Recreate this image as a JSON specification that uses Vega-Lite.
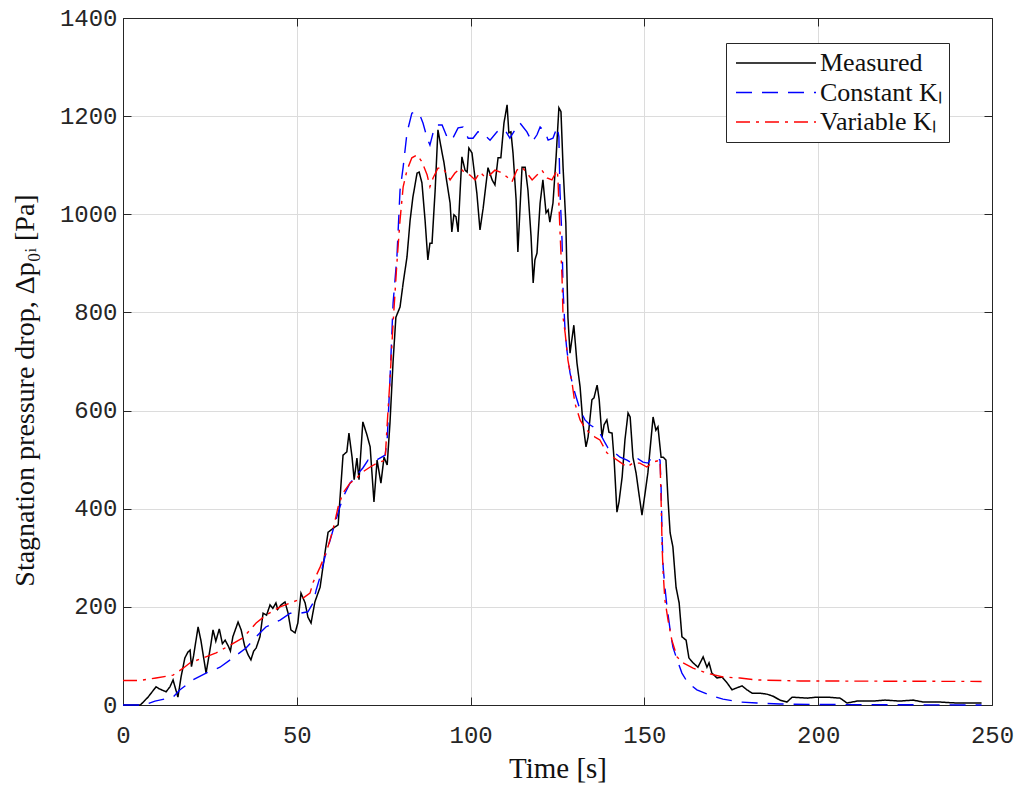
{
  "$schema": "https://vega.github.io/schema/vega-lite/v6.json",
  "width": 869,
  "height": 687,
  "autosize": {"type": "none"},
  "padding": {"left": 123, "top": 18, "right": 30, "bottom": 83},
  "background": "white",
  "config": {
    "view": {"stroke": null},
    "axis": {
      "labelFont": "Liberation Mono",
      "labelFontSize": 24,
      "labelColor": "#262626",
      "titleFont": "Liberation Serif",
      "titleFontSize": 28,
      "titleFontWeight": "normal",
      "titleColor": "#111111",
      "domainColor": "#262626",
      "domainWidth": 1,
      "tickColor": "#262626",
      "tickSize": -8,
      "tickWidth": 1,
      "gridColor": "#dcdcdc",
      "gridWidth": 1,
      "labelFlush": false,
      "labelOverlap": false
    },
    "legend": {
      "labelFont": "Liberation Serif",
      "labelFontSize": 26,
      "labelColor": "#111111"
    }
  },
  "data": {
    "values": [
      {"time": 0, "dp": 0, "series": "Measured"},
      {"time": 5, "dp": 0, "series": "Measured"},
      {"time": 7.2, "dp": 16, "series": "Measured"},
      {"time": 9.5, "dp": 37, "series": "Measured"},
      {"time": 10.4, "dp": 33, "series": "Measured"},
      {"time": 12.4, "dp": 27, "series": "Measured"},
      {"time": 13.5, "dp": 37, "series": "Measured"},
      {"time": 14.4, "dp": 51, "series": "Measured"},
      {"time": 15.8, "dp": 16, "series": "Measured"},
      {"time": 16.7, "dp": 57, "series": "Measured"},
      {"time": 17.8, "dp": 96, "series": "Measured"},
      {"time": 18.7, "dp": 108, "series": "Measured"},
      {"time": 19.3, "dp": 112, "series": "Measured"},
      {"time": 19.7, "dp": 78, "series": "Measured"},
      {"time": 20.3, "dp": 100, "series": "Measured"},
      {"time": 21.6, "dp": 159, "series": "Measured"},
      {"time": 22.4, "dp": 132, "series": "Measured"},
      {"time": 23.9, "dp": 65, "series": "Measured"},
      {"time": 25.2, "dp": 120, "series": "Measured"},
      {"time": 25.9, "dp": 153, "series": "Measured"},
      {"time": 26.7, "dp": 130, "series": "Measured"},
      {"time": 27.7, "dp": 155, "series": "Measured"},
      {"time": 28.6, "dp": 125, "series": "Measured"},
      {"time": 29.4, "dp": 132, "series": "Measured"},
      {"time": 30.3, "dp": 120, "series": "Measured"},
      {"time": 30.9, "dp": 110, "series": "Measured"},
      {"time": 31.6, "dp": 139, "series": "Measured"},
      {"time": 33.1, "dp": 169, "series": "Measured"},
      {"time": 34.0, "dp": 153, "series": "Measured"},
      {"time": 35.0, "dp": 120, "series": "Measured"},
      {"time": 36.0, "dp": 102, "series": "Measured"},
      {"time": 36.8, "dp": 92, "series": "Measured"},
      {"time": 37.6, "dp": 110, "series": "Measured"},
      {"time": 38.3, "dp": 116, "series": "Measured"},
      {"time": 39.4, "dp": 139, "series": "Measured"},
      {"time": 40.3, "dp": 187, "series": "Measured"},
      {"time": 41.3, "dp": 183, "series": "Measured"},
      {"time": 42.3, "dp": 204, "series": "Measured"},
      {"time": 43.1, "dp": 197, "series": "Measured"},
      {"time": 44.0, "dp": 208, "series": "Measured"},
      {"time": 44.5, "dp": 195, "series": "Measured"},
      {"time": 45.5, "dp": 204, "series": "Measured"},
      {"time": 46.6, "dp": 210, "series": "Measured"},
      {"time": 47.5, "dp": 187, "series": "Measured"},
      {"time": 48.3, "dp": 153, "series": "Measured"},
      {"time": 49.5, "dp": 147, "series": "Measured"},
      {"time": 50.3, "dp": 167, "series": "Measured"},
      {"time": 51.2, "dp": 228, "series": "Measured"},
      {"time": 52.4, "dp": 208, "series": "Measured"},
      {"time": 53.2, "dp": 179, "series": "Measured"},
      {"time": 54.1, "dp": 167, "series": "Measured"},
      {"time": 55.2, "dp": 210, "series": "Measured"},
      {"time": 56.7, "dp": 240, "series": "Measured"},
      {"time": 58.1, "dp": 310, "series": "Measured"},
      {"time": 59.0, "dp": 352, "series": "Measured"},
      {"time": 61.0, "dp": 363, "series": "Measured"},
      {"time": 61.9, "dp": 367, "series": "Measured"},
      {"time": 62.4, "dp": 418, "series": "Measured"},
      {"time": 63.3, "dp": 509, "series": "Measured"},
      {"time": 64.4, "dp": 516, "series": "Measured"},
      {"time": 65.0, "dp": 554, "series": "Measured"},
      {"time": 65.9, "dp": 505, "series": "Measured"},
      {"time": 66.5, "dp": 459, "series": "Measured"},
      {"time": 67.3, "dp": 503, "series": "Measured"},
      {"time": 67.9, "dp": 459, "series": "Measured"},
      {"time": 69.0, "dp": 577, "series": "Measured"},
      {"time": 70.2, "dp": 550, "series": "Measured"},
      {"time": 71.1, "dp": 526, "series": "Measured"},
      {"time": 72.2, "dp": 414, "series": "Measured"},
      {"time": 73.1, "dp": 499, "series": "Measured"},
      {"time": 74.2, "dp": 452, "series": "Measured"},
      {"time": 75.1, "dp": 505, "series": "Measured"},
      {"time": 76.0, "dp": 489, "series": "Measured"},
      {"time": 76.8, "dp": 574, "series": "Measured"},
      {"time": 77.7, "dp": 700, "series": "Measured"},
      {"time": 78.5, "dp": 790, "series": "Measured"},
      {"time": 79.7, "dp": 811, "series": "Measured"},
      {"time": 80.6, "dp": 860, "series": "Measured"},
      {"time": 81.7, "dp": 913, "series": "Measured"},
      {"time": 82.6, "dp": 988, "series": "Measured"},
      {"time": 83.4, "dp": 1035, "series": "Measured"},
      {"time": 84.6, "dp": 1084, "series": "Measured"},
      {"time": 85.2, "dp": 1086, "series": "Measured"},
      {"time": 86.0, "dp": 1064, "series": "Measured"},
      {"time": 86.9, "dp": 988, "series": "Measured"},
      {"time": 87.7, "dp": 907, "series": "Measured"},
      {"time": 88.3, "dp": 941, "series": "Measured"},
      {"time": 88.9, "dp": 941, "series": "Measured"},
      {"time": 89.8, "dp": 1049, "series": "Measured"},
      {"time": 90.6, "dp": 1172, "series": "Measured"},
      {"time": 91.8, "dp": 1125, "series": "Measured"},
      {"time": 92.3, "dp": 1107, "series": "Measured"},
      {"time": 93.2, "dp": 1064, "series": "Measured"},
      {"time": 94.1, "dp": 1023, "series": "Measured"},
      {"time": 94.6, "dp": 964, "series": "Measured"},
      {"time": 95.2, "dp": 999, "series": "Measured"},
      {"time": 95.8, "dp": 995, "series": "Measured"},
      {"time": 96.4, "dp": 964, "series": "Measured"},
      {"time": 97.0, "dp": 1049, "series": "Measured"},
      {"time": 97.5, "dp": 1117, "series": "Measured"},
      {"time": 98.4, "dp": 1090, "series": "Measured"},
      {"time": 99.0, "dp": 1086, "series": "Measured"},
      {"time": 99.5, "dp": 1135, "series": "Measured"},
      {"time": 100.4, "dp": 1125, "series": "Measured"},
      {"time": 101.8, "dp": 1043, "series": "Measured"},
      {"time": 102.7, "dp": 968, "series": "Measured"},
      {"time": 103.6, "dp": 1012, "series": "Measured"},
      {"time": 105.0, "dp": 1095, "series": "Measured"},
      {"time": 106.2, "dp": 1070, "series": "Measured"},
      {"time": 107.0, "dp": 1060, "series": "Measured"},
      {"time": 107.9, "dp": 1115, "series": "Measured"},
      {"time": 108.7, "dp": 1115, "series": "Measured"},
      {"time": 109.6, "dp": 1186, "series": "Measured"},
      {"time": 110.5, "dp": 1223, "series": "Measured"},
      {"time": 111.0, "dp": 1166, "series": "Measured"},
      {"time": 111.6, "dp": 1168, "series": "Measured"},
      {"time": 112.2, "dp": 1125, "series": "Measured"},
      {"time": 113.1, "dp": 1029, "series": "Measured"},
      {"time": 113.6, "dp": 923, "series": "Measured"},
      {"time": 114.8, "dp": 1096, "series": "Measured"},
      {"time": 115.7, "dp": 1096, "series": "Measured"},
      {"time": 116.5, "dp": 1049, "series": "Measured"},
      {"time": 117.4, "dp": 954, "series": "Measured"},
      {"time": 118.0, "dp": 860, "series": "Measured"},
      {"time": 118.5, "dp": 907, "series": "Measured"},
      {"time": 119.1, "dp": 921, "series": "Measured"},
      {"time": 120.0, "dp": 1023, "series": "Measured"},
      {"time": 120.8, "dp": 1070, "series": "Measured"},
      {"time": 121.7, "dp": 1003, "series": "Measured"},
      {"time": 122.3, "dp": 1009, "series": "Measured"},
      {"time": 122.8, "dp": 984, "series": "Measured"},
      {"time": 123.7, "dp": 1023, "series": "Measured"},
      {"time": 124.6, "dp": 1117, "series": "Measured"},
      {"time": 125.4, "dp": 1217, "series": "Measured"},
      {"time": 126.0, "dp": 1209, "series": "Measured"},
      {"time": 126.6, "dp": 1096, "series": "Measured"},
      {"time": 127.4, "dp": 982, "series": "Measured"},
      {"time": 128.0, "dp": 790, "series": "Measured"},
      {"time": 128.6, "dp": 717, "series": "Measured"},
      {"time": 129.7, "dp": 774, "series": "Measured"},
      {"time": 130.6, "dp": 697, "series": "Measured"},
      {"time": 131.5, "dp": 648, "series": "Measured"},
      {"time": 132.3, "dp": 575, "series": "Measured"},
      {"time": 133.2, "dp": 526, "series": "Measured"},
      {"time": 133.8, "dp": 546, "series": "Measured"},
      {"time": 134.9, "dp": 622, "series": "Measured"},
      {"time": 135.5, "dp": 626, "series": "Measured"},
      {"time": 136.4, "dp": 652, "series": "Measured"},
      {"time": 137.0, "dp": 622, "series": "Measured"},
      {"time": 137.8, "dp": 546, "series": "Measured"},
      {"time": 138.4, "dp": 571, "series": "Measured"},
      {"time": 139.2, "dp": 581, "series": "Measured"},
      {"time": 139.8, "dp": 556, "series": "Measured"},
      {"time": 140.7, "dp": 554, "series": "Measured"},
      {"time": 141.3, "dp": 499, "series": "Measured"},
      {"time": 142.1, "dp": 393, "series": "Measured"},
      {"time": 142.7, "dp": 414, "series": "Measured"},
      {"time": 143.6, "dp": 465, "series": "Measured"},
      {"time": 144.4, "dp": 540, "series": "Measured"},
      {"time": 145.3, "dp": 595, "series": "Measured"},
      {"time": 145.9, "dp": 587, "series": "Measured"},
      {"time": 146.7, "dp": 505, "series": "Measured"},
      {"time": 147.6, "dp": 473, "series": "Measured"},
      {"time": 148.4, "dp": 432, "series": "Measured"},
      {"time": 149.3, "dp": 387, "series": "Measured"},
      {"time": 150.2, "dp": 432, "series": "Measured"},
      {"time": 151.0, "dp": 473, "series": "Measured"},
      {"time": 152.5, "dp": 587, "series": "Measured"},
      {"time": 153.3, "dp": 560, "series": "Measured"},
      {"time": 153.9, "dp": 567, "series": "Measured"},
      {"time": 154.8, "dp": 505, "series": "Measured"},
      {"time": 155.4, "dp": 505, "series": "Measured"},
      {"time": 156.2, "dp": 499, "series": "Measured"},
      {"time": 156.8, "dp": 418, "series": "Measured"},
      {"time": 157.4, "dp": 351, "series": "Measured"},
      {"time": 158.2, "dp": 322, "series": "Measured"},
      {"time": 159.1, "dp": 240, "series": "Measured"},
      {"time": 160.0, "dp": 208, "series": "Measured"},
      {"time": 160.8, "dp": 139, "series": "Measured"},
      {"time": 162.0, "dp": 132, "series": "Measured"},
      {"time": 162.8, "dp": 96, "series": "Measured"},
      {"time": 164.0, "dp": 86, "series": "Measured"},
      {"time": 165.4, "dp": 77, "series": "Measured"},
      {"time": 166.9, "dp": 98, "series": "Measured"},
      {"time": 168.0, "dp": 77, "series": "Measured"},
      {"time": 168.6, "dp": 86, "series": "Measured"},
      {"time": 169.4, "dp": 65, "series": "Measured"},
      {"time": 170.9, "dp": 55, "series": "Measured"},
      {"time": 172.3, "dp": 57, "series": "Measured"},
      {"time": 173.8, "dp": 45, "series": "Measured"},
      {"time": 175.2, "dp": 31, "series": "Measured"},
      {"time": 176.6, "dp": 35, "series": "Measured"},
      {"time": 178.1, "dp": 39, "series": "Measured"},
      {"time": 179.5, "dp": 31, "series": "Measured"},
      {"time": 181.0, "dp": 24, "series": "Measured"},
      {"time": 183.3, "dp": 24, "series": "Measured"},
      {"time": 185.3, "dp": 22, "series": "Measured"},
      {"time": 187.0, "dp": 18, "series": "Measured"},
      {"time": 189.0, "dp": 10, "series": "Measured"},
      {"time": 191.0, "dp": 6, "series": "Measured"},
      {"time": 192.5, "dp": 16, "series": "Measured"},
      {"time": 196.8, "dp": 14, "series": "Measured"},
      {"time": 199.7, "dp": 16, "series": "Measured"},
      {"time": 202.5, "dp": 16, "series": "Measured"},
      {"time": 206.3, "dp": 14, "series": "Measured"},
      {"time": 208.3, "dp": 4, "series": "Measured"},
      {"time": 211.2, "dp": 8, "series": "Measured"},
      {"time": 215.8, "dp": 8, "series": "Measured"},
      {"time": 219.2, "dp": 10, "series": "Measured"},
      {"time": 223.5, "dp": 8, "series": "Measured"},
      {"time": 227.3, "dp": 10, "series": "Measured"},
      {"time": 230.2, "dp": 6, "series": "Measured"},
      {"time": 235.0, "dp": 6, "series": "Measured"},
      {"time": 239.9, "dp": 4, "series": "Measured"},
      {"time": 247.0, "dp": 4, "series": "Measured"},

      {"time": 0, "dp": 0, "series": "Constant Kₗ"},
      {"time": 6, "dp": 0, "series": "Constant Kₗ"},
      {"time": 9.2, "dp": 8, "series": "Constant Kₗ"},
      {"time": 14.4, "dp": 16, "series": "Constant Kₗ"},
      {"time": 16.4, "dp": 31, "series": "Constant Kₗ"},
      {"time": 20.1, "dp": 51, "series": "Constant Kₗ"},
      {"time": 23.9, "dp": 65, "series": "Constant Kₗ"},
      {"time": 27.9, "dp": 77, "series": "Constant Kₗ"},
      {"time": 31.6, "dp": 96, "series": "Constant Kₗ"},
      {"time": 35.4, "dp": 116, "series": "Constant Kₗ"},
      {"time": 38.3, "dp": 139, "series": "Constant Kₗ"},
      {"time": 41.1, "dp": 159, "series": "Constant Kₗ"},
      {"time": 45.2, "dp": 173, "series": "Constant Kₗ"},
      {"time": 48.1, "dp": 187, "series": "Constant Kₗ"},
      {"time": 50.9, "dp": 187, "series": "Constant Kₗ"},
      {"time": 53.2, "dp": 190, "series": "Constant Kₗ"},
      {"time": 54.7, "dp": 208, "series": "Constant Kₗ"},
      {"time": 55.6, "dp": 235, "series": "Constant Kₗ"},
      {"time": 56.7, "dp": 261, "series": "Constant Kₗ"},
      {"time": 58.1, "dp": 302, "series": "Constant Kₗ"},
      {"time": 59.6, "dp": 336, "series": "Constant Kₗ"},
      {"time": 61.0, "dp": 371, "series": "Constant Kₗ"},
      {"time": 62.4, "dp": 404, "series": "Constant Kₗ"},
      {"time": 63.9, "dp": 432, "series": "Constant Kₗ"},
      {"time": 65.3, "dp": 452, "series": "Constant Kₗ"},
      {"time": 67.3, "dp": 469, "series": "Constant Kₗ"},
      {"time": 69.0, "dp": 483, "series": "Constant Kₗ"},
      {"time": 70.5, "dp": 499, "series": "Constant Kₗ"},
      {"time": 71.9, "dp": 495, "series": "Constant Kₗ"},
      {"time": 73.9, "dp": 503, "series": "Constant Kₗ"},
      {"time": 75.4, "dp": 509, "series": "Constant Kₗ"},
      {"time": 76.0, "dp": 540, "series": "Constant Kₗ"},
      {"time": 76.8, "dp": 662, "series": "Constant Kₗ"},
      {"time": 77.7, "dp": 819, "series": "Constant Kₗ"},
      {"time": 78.8, "dp": 913, "series": "Constant Kₗ"},
      {"time": 79.7, "dp": 1049, "series": "Constant Kₗ"},
      {"time": 80.6, "dp": 1096, "series": "Constant Kₗ"},
      {"time": 81.7, "dp": 1166, "series": "Constant Kₗ"},
      {"time": 83.1, "dp": 1206, "series": "Constant Kₗ"},
      {"time": 84.0, "dp": 1209, "series": "Constant Kₗ"},
      {"time": 85.4, "dp": 1202, "series": "Constant Kₗ"},
      {"time": 86.3, "dp": 1186, "series": "Constant Kₗ"},
      {"time": 87.5, "dp": 1155, "series": "Constant Kₗ"},
      {"time": 88.3, "dp": 1141, "series": "Constant Kₗ"},
      {"time": 89.2, "dp": 1166, "series": "Constant Kₗ"},
      {"time": 90.3, "dp": 1182, "series": "Constant Kₗ"},
      {"time": 91.8, "dp": 1182, "series": "Constant Kₗ"},
      {"time": 93.2, "dp": 1158, "series": "Constant Kₗ"},
      {"time": 94.6, "dp": 1151, "series": "Constant Kₗ"},
      {"time": 96.4, "dp": 1176, "series": "Constant Kₗ"},
      {"time": 97.8, "dp": 1178, "series": "Constant Kₗ"},
      {"time": 99.3, "dp": 1155, "series": "Constant Kₗ"},
      {"time": 100.7, "dp": 1155, "series": "Constant Kₗ"},
      {"time": 102.1, "dp": 1168, "series": "Constant Kₗ"},
      {"time": 103.6, "dp": 1166, "series": "Constant Kₗ"},
      {"time": 105.0, "dp": 1155, "series": "Constant Kₗ"},
      {"time": 105.6, "dp": 1151, "series": "Constant Kₗ"},
      {"time": 107.6, "dp": 1168, "series": "Constant Kₗ"},
      {"time": 108.5, "dp": 1172, "series": "Constant Kₗ"},
      {"time": 109.9, "dp": 1172, "series": "Constant Kₗ"},
      {"time": 111.3, "dp": 1155, "series": "Constant Kₗ"},
      {"time": 113.3, "dp": 1178, "series": "Constant Kₗ"},
      {"time": 114.2, "dp": 1186, "series": "Constant Kₗ"},
      {"time": 116.2, "dp": 1168, "series": "Constant Kₗ"},
      {"time": 117.7, "dp": 1147, "series": "Constant Kₗ"},
      {"time": 119.1, "dp": 1162, "series": "Constant Kₗ"},
      {"time": 120.0, "dp": 1178, "series": "Constant Kₗ"},
      {"time": 121.4, "dp": 1168, "series": "Constant Kₗ"},
      {"time": 122.3, "dp": 1151, "series": "Constant Kₗ"},
      {"time": 123.7, "dp": 1155, "series": "Constant Kₗ"},
      {"time": 124.9, "dp": 1178, "series": "Constant Kₗ"},
      {"time": 125.4, "dp": 1158, "series": "Constant Kₗ"},
      {"time": 125.7, "dp": 1049, "series": "Constant Kₗ"},
      {"time": 126.3, "dp": 948, "series": "Constant Kₗ"},
      {"time": 126.6, "dp": 846, "series": "Constant Kₗ"},
      {"time": 127.2, "dp": 760, "series": "Constant Kₗ"},
      {"time": 127.7, "dp": 723, "series": "Constant Kₗ"},
      {"time": 128.6, "dp": 677, "series": "Constant Kₗ"},
      {"time": 129.5, "dp": 648, "series": "Constant Kₗ"},
      {"time": 130.6, "dp": 622, "series": "Constant Kₗ"},
      {"time": 131.5, "dp": 601, "series": "Constant Kₗ"},
      {"time": 132.9, "dp": 581, "series": "Constant Kₗ"},
      {"time": 134.3, "dp": 571, "series": "Constant Kₗ"},
      {"time": 135.2, "dp": 567, "series": "Constant Kₗ"},
      {"time": 137.2, "dp": 554, "series": "Constant Kₗ"},
      {"time": 138.7, "dp": 534, "series": "Constant Kₗ"},
      {"time": 139.5, "dp": 524, "series": "Constant Kₗ"},
      {"time": 141.5, "dp": 514, "series": "Constant Kₗ"},
      {"time": 143.0, "dp": 505, "series": "Constant Kₗ"},
      {"time": 145.0, "dp": 499, "series": "Constant Kₗ"},
      {"time": 146.4, "dp": 493, "series": "Constant Kₗ"},
      {"time": 147.9, "dp": 503, "series": "Constant Kₗ"},
      {"time": 149.6, "dp": 495, "series": "Constant Kₗ"},
      {"time": 151.0, "dp": 493, "series": "Constant Kₗ"},
      {"time": 152.2, "dp": 505, "series": "Constant Kₗ"},
      {"time": 153.6, "dp": 503, "series": "Constant Kₗ"},
      {"time": 154.5, "dp": 499, "series": "Constant Kₗ"},
      {"time": 154.8, "dp": 444, "series": "Constant Kₗ"},
      {"time": 155.1, "dp": 342, "series": "Constant Kₗ"},
      {"time": 155.4, "dp": 281, "series": "Constant Kₗ"},
      {"time": 155.9, "dp": 240, "series": "Constant Kₗ"},
      {"time": 156.5, "dp": 200, "series": "Constant Kₗ"},
      {"time": 157.4, "dp": 153, "series": "Constant Kₗ"},
      {"time": 158.2, "dp": 118, "series": "Constant Kₗ"},
      {"time": 159.4, "dp": 92, "series": "Constant Kₗ"},
      {"time": 160.8, "dp": 65, "series": "Constant Kₗ"},
      {"time": 162.5, "dp": 45, "series": "Constant Kₗ"},
      {"time": 165.1, "dp": 31, "series": "Constant Kₗ"},
      {"time": 168.9, "dp": 20, "series": "Constant Kₗ"},
      {"time": 172.6, "dp": 12, "series": "Constant Kₗ"},
      {"time": 177.5, "dp": 6, "series": "Constant Kₗ"},
      {"time": 182.4, "dp": 4, "series": "Constant Kₗ"},
      {"time": 189.0, "dp": 2, "series": "Constant Kₗ"},
      {"time": 200.0, "dp": 1, "series": "Constant Kₗ"},
      {"time": 247.0, "dp": 0, "series": "Constant Kₗ"},

      {"time": 0, "dp": 50, "series": "Variable Kₗ"},
      {"time": 4.9, "dp": 50, "series": "Variable Kₗ"},
      {"time": 9.5, "dp": 55, "series": "Variable Kₗ"},
      {"time": 14.4, "dp": 61, "series": "Variable Kₗ"},
      {"time": 17.3, "dp": 75, "series": "Variable Kₗ"},
      {"time": 19.3, "dp": 86, "series": "Variable Kₗ"},
      {"time": 23.0, "dp": 96, "series": "Variable Kₗ"},
      {"time": 26.8, "dp": 106, "series": "Variable Kₗ"},
      {"time": 30.8, "dp": 122, "series": "Variable Kₗ"},
      {"time": 34.5, "dp": 137, "series": "Variable Kₗ"},
      {"time": 38.3, "dp": 167, "series": "Variable Kₗ"},
      {"time": 41.1, "dp": 183, "series": "Variable Kₗ"},
      {"time": 45.2, "dp": 200, "series": "Variable Kₗ"},
      {"time": 48.9, "dp": 210, "series": "Variable Kₗ"},
      {"time": 51.8, "dp": 218, "series": "Variable Kₗ"},
      {"time": 53.8, "dp": 228, "series": "Variable Kₗ"},
      {"time": 54.7, "dp": 250, "series": "Variable Kₗ"},
      {"time": 56.7, "dp": 281, "series": "Variable Kₗ"},
      {"time": 58.7, "dp": 316, "series": "Variable Kₗ"},
      {"time": 60.4, "dp": 357, "series": "Variable Kₗ"},
      {"time": 61.9, "dp": 404, "series": "Variable Kₗ"},
      {"time": 63.3, "dp": 432, "series": "Variable Kₗ"},
      {"time": 65.3, "dp": 452, "series": "Variable Kₗ"},
      {"time": 67.3, "dp": 463, "series": "Variable Kₗ"},
      {"time": 69.0, "dp": 475, "series": "Variable Kₗ"},
      {"time": 71.1, "dp": 485, "series": "Variable Kₗ"},
      {"time": 73.1, "dp": 493, "series": "Variable Kₗ"},
      {"time": 75.4, "dp": 499, "series": "Variable Kₗ"},
      {"time": 76.2, "dp": 595, "series": "Variable Kₗ"},
      {"time": 76.8, "dp": 662, "series": "Variable Kₗ"},
      {"time": 77.7, "dp": 778, "series": "Variable Kₗ"},
      {"time": 78.8, "dp": 901, "series": "Variable Kₗ"},
      {"time": 79.7, "dp": 988, "series": "Variable Kₗ"},
      {"time": 80.6, "dp": 1056, "series": "Variable Kₗ"},
      {"time": 81.7, "dp": 1090, "series": "Variable Kₗ"},
      {"time": 83.1, "dp": 1115, "series": "Variable Kₗ"},
      {"time": 84.6, "dp": 1121, "series": "Variable Kₗ"},
      {"time": 86.0, "dp": 1107, "series": "Variable Kₗ"},
      {"time": 87.5, "dp": 1080, "series": "Variable Kₗ"},
      {"time": 88.3, "dp": 1056, "series": "Variable Kₗ"},
      {"time": 89.2, "dp": 1074, "series": "Variable Kₗ"},
      {"time": 90.6, "dp": 1094, "series": "Variable Kₗ"},
      {"time": 92.1, "dp": 1094, "series": "Variable Kₗ"},
      {"time": 94.1, "dp": 1070, "series": "Variable Kₗ"},
      {"time": 95.5, "dp": 1084, "series": "Variable Kₗ"},
      {"time": 97.0, "dp": 1094, "series": "Variable Kₗ"},
      {"time": 98.4, "dp": 1084, "series": "Variable Kₗ"},
      {"time": 99.8, "dp": 1080, "series": "Variable Kₗ"},
      {"time": 101.3, "dp": 1070, "series": "Variable Kₗ"},
      {"time": 102.7, "dp": 1086, "series": "Variable Kₗ"},
      {"time": 104.1, "dp": 1076, "series": "Variable Kₗ"},
      {"time": 105.5, "dp": 1080, "series": "Variable Kₗ"},
      {"time": 107.0, "dp": 1090, "series": "Variable Kₗ"},
      {"time": 108.5, "dp": 1086, "series": "Variable Kₗ"},
      {"time": 110.5, "dp": 1076, "series": "Variable Kₗ"},
      {"time": 111.9, "dp": 1066, "series": "Variable Kₗ"},
      {"time": 113.3, "dp": 1090, "series": "Variable Kₗ"},
      {"time": 114.8, "dp": 1096, "series": "Variable Kₗ"},
      {"time": 116.2, "dp": 1084, "series": "Variable Kₗ"},
      {"time": 117.7, "dp": 1070, "series": "Variable Kₗ"},
      {"time": 119.1, "dp": 1080, "series": "Variable Kₗ"},
      {"time": 120.5, "dp": 1090, "series": "Variable Kₗ"},
      {"time": 122.0, "dp": 1074, "series": "Variable Kₗ"},
      {"time": 123.4, "dp": 1070, "series": "Variable Kₗ"},
      {"time": 124.9, "dp": 1090, "series": "Variable Kₗ"},
      {"time": 125.1, "dp": 1076, "series": "Variable Kₗ"},
      {"time": 125.7, "dp": 968, "series": "Variable Kₗ"},
      {"time": 126.3, "dp": 872, "series": "Variable Kₗ"},
      {"time": 126.6, "dp": 790, "series": "Variable Kₗ"},
      {"time": 127.2, "dp": 758, "series": "Variable Kₗ"},
      {"time": 128.0, "dp": 703, "series": "Variable Kₗ"},
      {"time": 129.2, "dp": 656, "series": "Variable Kₗ"},
      {"time": 130.0, "dp": 615, "series": "Variable Kₗ"},
      {"time": 131.5, "dp": 581, "series": "Variable Kₗ"},
      {"time": 132.9, "dp": 564, "series": "Variable Kₗ"},
      {"time": 134.3, "dp": 554, "series": "Variable Kₗ"},
      {"time": 135.8, "dp": 546, "series": "Variable Kₗ"},
      {"time": 137.2, "dp": 540, "series": "Variable Kₗ"},
      {"time": 139.2, "dp": 514, "series": "Variable Kₗ"},
      {"time": 141.0, "dp": 505, "series": "Variable Kₗ"},
      {"time": 143.0, "dp": 495, "series": "Variable Kₗ"},
      {"time": 145.0, "dp": 485, "series": "Variable Kₗ"},
      {"time": 146.7, "dp": 493, "series": "Variable Kₗ"},
      {"time": 148.7, "dp": 493, "series": "Variable Kₗ"},
      {"time": 150.7, "dp": 485, "series": "Variable Kₗ"},
      {"time": 152.5, "dp": 495, "series": "Variable Kₗ"},
      {"time": 154.5, "dp": 499, "series": "Variable Kₗ"},
      {"time": 154.8, "dp": 418, "series": "Variable Kₗ"},
      {"time": 155.1, "dp": 322, "series": "Variable Kₗ"},
      {"time": 155.4, "dp": 269, "series": "Variable Kₗ"},
      {"time": 155.9, "dp": 214, "series": "Variable Kₗ"},
      {"time": 156.8, "dp": 173, "series": "Variable Kₗ"},
      {"time": 157.9, "dp": 132, "series": "Variable Kₗ"},
      {"time": 159.4, "dp": 98, "series": "Variable Kₗ"},
      {"time": 161.1, "dp": 86, "series": "Variable Kₗ"},
      {"time": 164.0, "dp": 75, "series": "Variable Kₗ"},
      {"time": 168.0, "dp": 65, "series": "Variable Kₗ"},
      {"time": 172.6, "dp": 57, "series": "Variable Kₗ"},
      {"time": 177.5, "dp": 55, "series": "Variable Kₗ"},
      {"time": 182.4, "dp": 51, "series": "Variable Kₗ"},
      {"time": 194.8, "dp": 49, "series": "Variable Kₗ"},
      {"time": 247.0, "dp": 48, "series": "Variable Kₗ"}
    ]
  },
  "resolve": {"axis": {"x": "independent", "y": "independent"}},
  "layer": [
    {
      "transform": [{"filter": "datum.series === 'Measured'"}],
      "mark": {"type": "line", "strokeWidth": 1.5, "interpolate": "linear"},
      "encoding": {
        "x": {
          "field": "time", "type": "quantitative",
          "scale": {"domain": [0, 250], "nice": false},
          "axis": {
            "orient": "bottom", "title": "Time [s]",
            "values": [0, 50, 100, 150, 200, 250],
            "labelPadding": 26, "titlePadding": 7, "titleFontSize": 29, "grid": true
          }
        },
        "y": {
          "field": "dp", "type": "quantitative",
          "scale": {"domain": [0, 1400], "nice": false},
          "axis": {
            "orient": "left", "title": "Stagnation pressure drop, Δp₀ᵢ [Pa]",
            "values": [0, 200, 400, 600, 800, 1000, 1200, 1400],
            "format": "d", "labelPadding": 14, "titlePadding": 20,
            "titleY": 372, "grid": true
          }
        },
        "color": {
          "field": "series", "type": "nominal",
          "scale": {
            "domain": ["Measured", "Constant Kₗ", "Variable Kₗ"],
            "range": ["#000000", "#0000ff", "#ff0000"]
          },
          "legend": {
            "title": null, "orient": "none", "legendX": 603, "legendY": 25,
            "symbolType": "M-1,0H7", "symbolSize": 400, "symbolStrokeWidth": 1.5,
            "labelOffset": 61, "rowPadding": 3.5, "padding": 7,
            "strokeColor": "#262626", "fillColor": "white"
          }
        },
        "strokeDash": {
          "field": "series", "type": "nominal",
          "scale": {
            "domain": ["Measured", "Constant Kₗ", "Variable Kₗ"],
            "range": [[1, 0], [16, 10], [14, 6, 3, 6]]
          },
          "legend": null
        }
      }
    },
    {
      "transform": [{"filter": "datum.series !== 'Measured'"}],
      "mark": {"type": "line", "strokeWidth": 1.4, "interpolate": "linear"},
      "encoding": {
        "x": {
          "field": "time", "type": "quantitative",
          "axis": {
            "orient": "top", "title": null, "labels": false, "grid": false,
            "values": [0, 50, 100, 150, 200, 250]
          }
        },
        "y": {
          "field": "dp", "type": "quantitative",
          "axis": {
            "orient": "right", "title": null, "labels": false, "grid": false,
            "values": [0, 200, 400, 600, 800, 1000, 1200, 1400]
          }
        },
        "color": {"field": "series", "type": "nominal"},
        "strokeDash": {"field": "series", "type": "nominal", "legend": null}
      }
    }
  ]
}
